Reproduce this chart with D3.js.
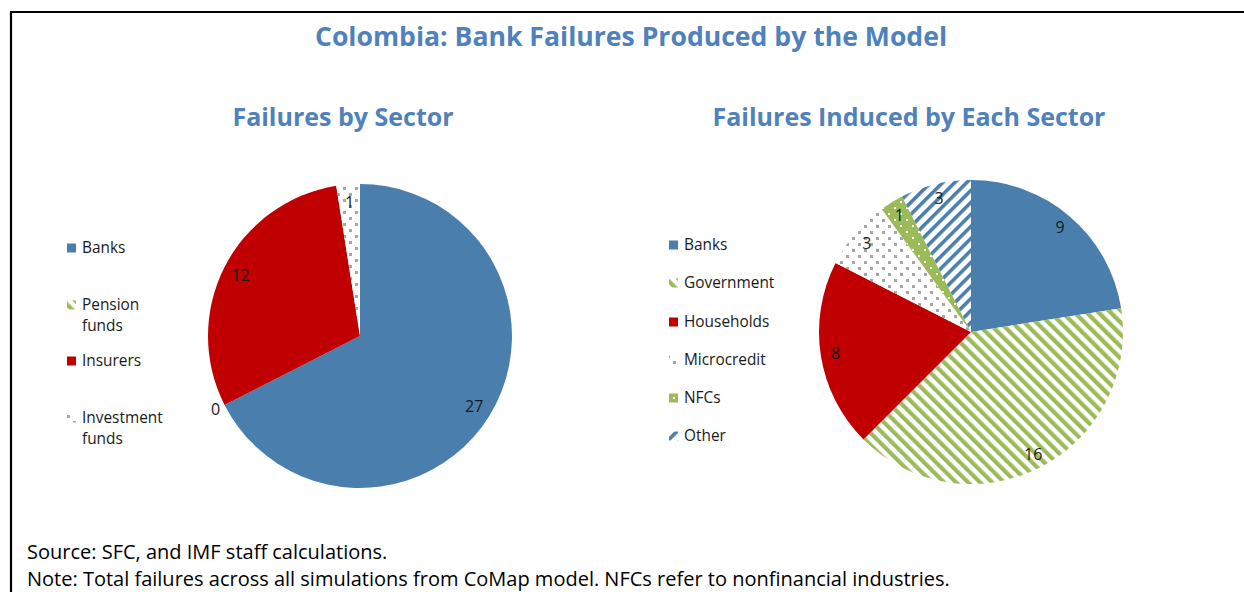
<!DOCTYPE html>
<html>
<head>
<meta charset="utf-8">
<script src="https://cdn.jsdelivr.net/npm/d3@7"></script>
<style>
  html, body { margin: 0; padding: 0; background: #fff; }
  svg { display: block; font-family: "Open Sans", "Noto Sans", sans-serif; }
</style>
</head>
<body>
<svg id="chart" width="1244" height="592"></svg>
<script>
// Failures by sector (left pie)
const sectorCategories = ["Banks", "Pension funds", "Insurers", "Investment funds"];
const sectorValues = [27, 0, 12, 1];

// Failures induced by each sector (right pie)
const inducedCategories = ["Banks", "Government", "Households", "Microcredit", "NFCs", "Other"];
const inducedValues = [9, 16, 8, 3, 1, 3];

const mainTitle = "Colombia: Bank Failures Produced by the Model";
const leftTitle = "Failures by Sector";
const rightTitle = "Failures Induced by Each Sector";
const footnotes = [
  "Source: SFC, and IMF staff calculations.",
  "Note: Total failures across all simulations from CoMap model. NFCs refer to nonfinancial industries."
];

const BLUE = "#4a7fad", RED = "#c00000", GREEN = "#9bbb59", GREY = "#a6a6a6";
const TITLE_BLUE = "#4f81bd";

const svg = d3.select("#chart");
const defs = svg.append("defs");

// --- fill patterns ---
function stripePattern(id, color, angle, period, width) {
  const p = defs.append("pattern").attr("id", id)
    .attr("patternUnits", "userSpaceOnUse")
    .attr("width", period).attr("height", period)
    .attr("patternTransform", `rotate(${angle})`);
  p.append("rect").attr("width", period).attr("height", period).attr("fill", "#fff");
  p.append("rect").attr("width", width).attr("height", period).attr("fill", color);
}
function dotPattern(id, bg, dot, size, tile) {
  const p = defs.append("pattern").attr("id", id)
    .attr("patternUnits", "userSpaceOnUse")
    .attr("width", tile).attr("height", tile);
  p.append("rect").attr("width", tile).attr("height", tile).attr("fill", bg);
  [[1, 1], [1 + tile / 2, 1 + tile / 2]].forEach(([x, y]) =>
    p.append("rect").attr("x", x).attr("y", y).attr("width", size).attr("height", size).attr("fill", dot));
}
stripePattern("greenStripes", GREEN, -45, 8.5, 4.2);
stripePattern("blueStripes", BLUE, 45, 8.5, 3.6);
dotPattern("greyDots", "#fff", GREY, 3, 12);
dotPattern("greenDots", GREEN, "#fff", 2, 12);

const fills = {
  "Banks": BLUE,
  "Pension funds": "url(#greenStripes)",
  "Insurers": RED,
  "Investment funds": "url(#greyDots)",
  "Government": "url(#greenStripes)",
  "Households": RED,
  "Microcredit": "url(#greyDots)",
  "NFCs": "url(#greenDots)",
  "Other": "url(#blueStripes)"
};

// --- frame ---
svg.append("path")
  .attr("d", "M11,600 V12 H1250")
  .attr("fill", "none").attr("stroke", "#000").attr("stroke-width", 2.2);

// --- titles ---
svg.append("text").attr("x", 631).attr("y", 46)
  .attr("text-anchor", "middle").attr("font-size", 26.6).attr("font-weight", 700)
  .attr("fill", TITLE_BLUE).text(mainTitle);
svg.append("text").attr("x", 343).attr("y", 126)
  .attr("text-anchor", "middle").attr("font-size", 25).attr("font-weight", 700)
  .attr("fill", TITLE_BLUE).text(leftTitle);
svg.append("text").attr("x", 909).attr("y", 126)
  .attr("text-anchor", "middle").attr("font-size", 25).attr("font-weight", 700)
  .attr("fill", TITLE_BLUE).text(rightTitle);

// --- pies ---
function drawPie(cats, vals, cx, cy, r, labelR) {
  const data = cats.map((c, i) => ({ cat: c, value: vals[i] }));
  const pie = d3.pie().sort(null).value(d => d.value).startAngle(0).endAngle(2 * Math.PI);
  const arcs = pie(data);
  const arc = d3.arc().innerRadius(0).outerRadius(r);
  const g = svg.append("g").attr("transform", `translate(${cx},${cy})`);
  g.selectAll("path.slice").data(arcs).join("path")
    .attr("class", "slice")
    .attr("d", arc)
    .attr("fill", d => fills[d.data.cat]);
  g.selectAll("text.val").data(arcs).join("text")
    .attr("class", "val")
    .attr("transform", d => {
      const a = (d.startAngle + d.endAngle) / 2;
      const rr = d.data.value === 0 ? r + 10 : labelR;
      return `translate(${rr * Math.sin(a)},${-rr * Math.cos(a)})`;
    })
    .attr("text-anchor", "middle").attr("dy", "0.35em")
    .attr("font-size", 16).attr("fill", "#1a1a1a")
    .text(d => d.data.value);
}
drawPie(sectorCategories, sectorValues, 360, 336, 152, 134);
drawPie(inducedCategories, inducedValues, 971, 332, 152, 137);

// --- legends ---
function drawLegend(cats, x, ys, wrap) {
  const g = svg.append("g");
  cats.forEach((c, i) => {
    const y = ys[i];
    g.append("rect").attr("x", x).attr("y", y - 4.5).attr("width", 9).attr("height", 9)
      .attr("fill", fills[c]);
    const lines = wrap && c.includes(" ") ? c.split(" ") : [c];
    const t = g.append("text").attr("x", x + 15).attr("y", y)
      .attr("font-size", 15.4).attr("fill", "#1a1a1a");
    lines.forEach((l, j) => t.append("tspan").attr("x", x + 15).attr("dy", j === 0 ? "0.35em" : 21).text(l));
  });
}
drawLegend(sectorCategories, 67, [248, 305, 361, 418], true);
drawLegend(inducedCategories, 669, [245, 283, 322, 360, 398, 436], false);

// --- footnotes ---
footnotes.forEach((f, i) => {
  svg.append("text").attr("x", 27).attr("y", 559 + i * 27)
    .attr("font-size", 20).attr("fill", "#000").text(f);
});
</script>
</body>
</html>
